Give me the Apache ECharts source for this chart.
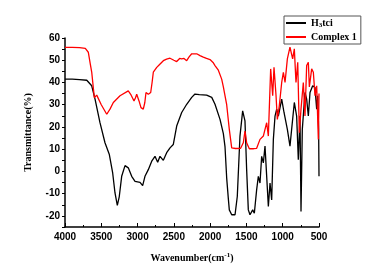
<!DOCTYPE html>
<html>
<head>
<meta charset="utf-8">
<script src="https://cdn.jsdelivr.net/npm/echarts@6/dist/echarts.min.js"></script>
<style>
  html, body { margin: 0; padding: 0; background: #fff; }
  #chart { width: 388px; height: 272px; }
</style>
</head>
<body>
<div id="chart"></div>
<script>
// x: wavenumber (cm-1), y: transmittance (%)
const xTicks = [4000, 3500, 3000, 2500, 2000, 1500, 1000, 500]
const yTicks = [-20, -10, 0, 10, 20, 30, 40, 50, 60]

const h3tciData = [
  [4000, 41.5], [3900, 41.5], [3800, 41.3], [3700, 41], [3680, 40.5], [3632, 38.5], [3586, 32.5],
  [3518, 21.9], [3449, 12.9], [3389, 7.6], [3343, -0.7], [3311, -9.7], [3279, -15.3], [3252, -11.3],
  [3219, -2.2], [3173, 2.6], [3128, 1.6], [3081, -2.2], [3035, -4.5], [2966, -4.9], [2930, -6.4],
  [2898, -2.2], [2852, 0.8], [2805, 4.6], [2760, 6.8], [2723, 4.1], [2691, 6.8], [2645, 5],
  [2599, 8.4], [2553, 10.6], [2508, 12.1], [2461, 20.4], [2392, 26.5], [2323, 30.2], [2254, 33.3],
  [2209, 34.8], [2150, 34.5], [2100, 34.4], [2048, 34.3], [1978, 33.3], [1933, 30.2], [1864, 23.4],
  [1818, 17], [1795, 11], [1772, -3], [1750, -12], [1736, -17.3], [1703, -19.5], [1657, -19.5],
  [1626, -11.3], [1589, 15.9], [1552, 27.2], [1520, 22.7], [1497, 0.8], [1474, -17.3], [1451, -19.5],
  [1414, -17.3], [1391, -18.8], [1359, -8.2], [1336, -2.2], [1313, -5.2], [1290, 6.8], [1267, 3.8],
  [1244, 11.4], [1221, -2.2], [1198, -15.8], [1175, -5.2], [1152, -12.8], [1129, 14.4], [1106, 24.9],
  [1083, 28], [1060, 24.9], [1014, 32.5], [982, 26.5], [936, 18.9], [900, 11.4], [877, 18.9],
  [840, 31], [808, 24.9], [785, 5.3], [762, 24.9], [748, -18], [730, 18.9], [693, 35.5],
  [670, 32.5], [647, 24.9], [624, 35.5], [587, 38.5], [555, 37.7], [532, 28], [518, 34],
  [505, 18.9], [500, -2.2]
]

const complexData = [
  [4000, 55.8], [3900, 55.8], [3800, 55.7], [3720, 55.3], [3679, 53.6], [3650, 48], [3632, 44.7],
  [3596, 33.2], [3563, 34.3], [3500, 30], [3425, 25.7], [3380, 28], [3334, 31], [3242, 34],
  [3128, 36.2], [3095, 34.7], [3049, 31.7], [3030, 33], [3012, 34.7], [2980, 31.7], [2953, 28.7],
  [2921, 28], [2900, 31], [2884, 35.5], [2852, 34.7], [2819, 35.5], [2800, 40], [2783, 44.6],
  [2736, 46.8], [2700, 48], [2645, 49.8], [2600, 50.5], [2553, 50.9], [2500, 50], [2461, 49.4],
  [2420, 50.8], [2392, 50.6], [2360, 50.8], [2323, 49.8], [2290, 51.5], [2254, 52.9], [2185, 52.9],
  [2140, 52.1], [2094, 51.4], [2050, 50.8], [2002, 50.3], [1960, 49], [1933, 47.6], [1887, 45.5],
  [1841, 41.5], [1818, 38], [1772, 30], [1736, 18.9], [1703, 10.6], [1650, 10.3], [1580, 10.4],
  [1543, 12.9], [1520, 18.1], [1497, 12.9], [1460, 10.2], [1400, 10.2], [1359, 10.4], [1313, 14.4],
  [1267, 15.9], [1221, 21.9], [1198, 15.9], [1166, 46.1], [1138, 34], [1120, 46.8], [1092, 34],
  [1074, 23.4], [1047, 29.5], [1014, 40], [991, 44.6], [968, 40], [936, 50.6], [900, 55.9],
  [863, 50.6], [840, 55.1], [817, 40], [793, 49.1], [771, 17.4], [748, 28], [716, 40],
  [693, 24.9], [670, 47.6], [647, 49.1], [633, 38], [601, 46.1], [578, 44.6], [555, 34],
  [532, 38.5], [509, 14.4], [500, 35]
]

const labelFont = { color: '#000', fontFamily: 'Liberation Sans', fontWeight: 'bold', fontSize: 10 }
const serif = { color: '#000', fontFamily: 'Liberation Serif', fontWeight: 'bold', fontSize: 10 }

const chart = echarts.init(document.getElementById('chart'))
chart.setOption({
  animation: false,
  backgroundColor: '#fff',
  grid: { left: 65, right: 69, top: 38, bottom: 45 },
  legend: {
    left: 284,
    top: 16,
    orient: 'vertical',
    itemGap: 3,
    itemWidth: 20,
    itemHeight: 2,
    padding: [2, 4, 2, 2],
    borderColor: '#555',
    borderWidth: 1,
    icon: 'rect',
    textStyle: Object.assign({}, serif, {
      rich: {
        a: serif,
        s: Object.assign({}, serif, { fontSize: 7, padding: [5, 0, 0, 0] })
      }
    }),
    formatter: function (name) {
      return name === 'H3tci' ? '{a|H}{s|3}{a|tci}' : '{a|' + name + '}'
    },
    data: ['H3tci', 'Complex 1']
  },
  xAxis: {
    type: 'value',
    inverse: true,
    min: 500,
    max: 4000,
    interval: 500,
    name: '{a|Wavenumber(cm}{s|-1}{a|)}',
    nameLocation: 'middle',
    nameGap: 25,
    nameTextStyle: {
      rich: {
        a: serif,
        s: Object.assign({}, serif, { fontSize: 7, padding: [0, 0, 6, 0] })
      }
    },
    axisLine: { onZero: false, lineStyle: { color: '#000', width: 1.5 } },
    axisTick: { inside: true, length: 4, lineStyle: { color: '#000' } },
    minorTick: { show: true, splitNumber: 2, length: 2, lineStyle: { color: '#000' } },
    axisLabel: Object.assign({ margin: 5, formatter: v => xTicks.includes(v) ? String(v) : '' }, labelFont),
    splitLine: { show: false }
  },
  yAxis: {
    type: 'value',
    min: -25,
    max: 60,
    interval: 5,
    name: 'Transmittance(%)',
    nameLocation: 'middle',
    nameGap: 32,
    nameTextStyle: serif,
    axisLine: { lineStyle: { color: '#000', width: 1.5 } },
    axisTick: { inside: false, length: 3, lineStyle: { color: '#000' } },
    axisLabel: Object.assign({ margin: 5, formatter: v => yTicks.includes(v) ? String(v) : '' }, labelFont),
    splitLine: { show: false }
  },
  series: [
    {
      name: 'H3tci',
      type: 'line',
      data: h3tciData,
      showSymbol: false,
      color: '#000',
      lineStyle: { color: '#000', width: 1.3 }
    },
    {
      name: 'Complex 1',
      type: 'line',
      data: complexData,
      showSymbol: false,
      color: '#f00',
      lineStyle: { color: '#f00', width: 1.3 }
    }
  ]
})
</script>
</body>
</html>
